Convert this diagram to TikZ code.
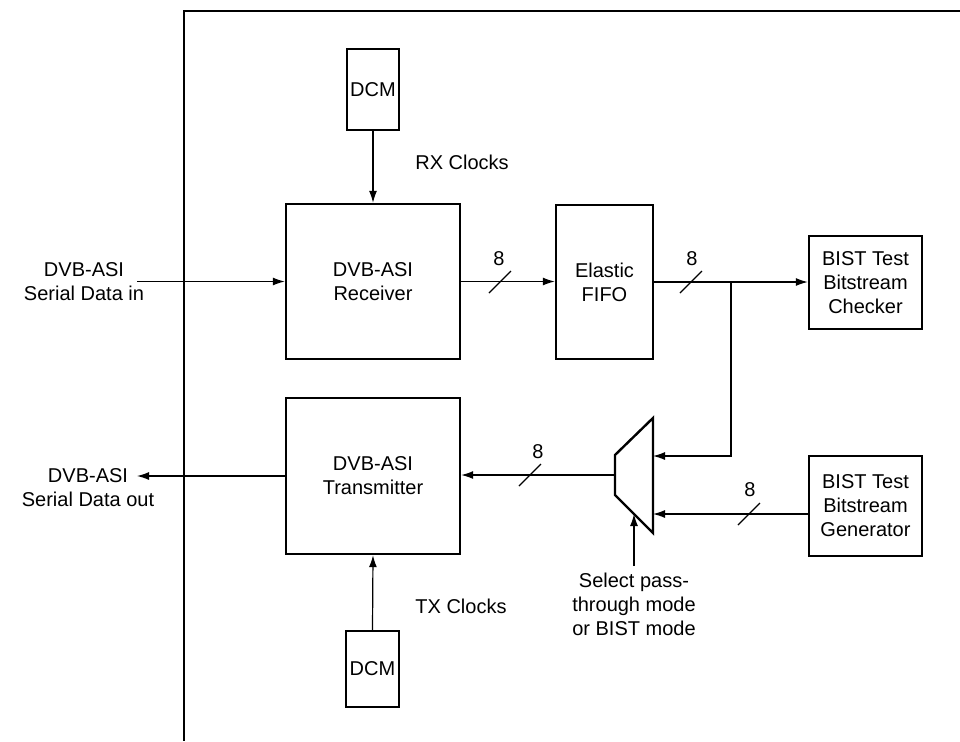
\documentclass[tikz,border=0pt]{standalone}
\usepackage{fontspec}
\setmainfont{Liberation Sans}
\usetikzlibrary{arrows.meta}
\begin{document}
\begin{tikzpicture}[x=0.5pt,y=-0.5pt,
  box/.style={draw,line width=1.2pt,inner sep=0pt,align=center,font=\fontsize{10}{12}\selectfont},
  conn/.style={line width=0.6pt,-{Latex[length=6pt,width=4pt]}},
  wire/.style={line width=0.6pt},
  lbl/.style={font=\fontsize{10}{12}\selectfont,align=center,inner sep=0pt},
  tick/.style={line width=0.6pt}]
\useasboundingbox (0,0) rectangle (960,741);
% outer frame (left and top edges)
\draw[line width=1.2pt] (960,11) -- (184,11) -- (184,741);
% blocks
\node[box,minimum width=26pt,minimum height=40.5pt] (dcm1) at (373,89.5) {DCM};
\node[box,minimum width=87pt,minimum height=77.5pt] (rx) at (373,281.5) {DVB-ASI\\Receiver};
\node[box,minimum width=48.5pt,minimum height=77pt] (fifo) at (604.5,282) {Elastic\\FIFO};
\node[box,minimum width=56.5pt,minimum height=46.5pt] (chk) at (865.5,282.5) {BIST Test\\Bitstream\\Checker};
\node[box,minimum width=87pt,minimum height=78pt] (tx) at (373,476) {DVB-ASI\\Transmitter};
\node[box,minimum width=56.5pt,minimum height=50pt] (gen) at (865.5,506) {BIST Test\\Bitstream\\Generator};
\node[box,minimum width=26.5pt,minimum height=38pt] (dcm2) at (372.5,669) {DCM};
% mux
\draw[line width=1.2pt] (653,418) -- (615,455) -- (615,495) -- (653,533) -- cycle;
\coordinate (muxin1) at (653,456);
\coordinate (muxin2) at (653,514);
\coordinate (muxout) at (615,475);
\coordinate (muxsel) at (634,514);
% labels
\node[lbl] (inlbl) at (84,282) {DVB-ASI\\Serial Data in};
\node[lbl] (outlbl) at (88,488) {DVB-ASI\\Serial Data out};
\node[lbl,anchor=west] (rxclk) at (415,162) {RX Clocks};
\node[lbl,anchor=west] (txclk) at (415,606) {TX Clocks};
\node[lbl] (sellbl) at (634,604) {Select pass-\\through mode\\or BIST mode};
\node[lbl] (n1) at (499,259) {8};
\node[lbl] (n2) at (692,259) {8};
\node[lbl] (n3) at (538,452) {8};
\node[lbl] (n4) at (750,490) {8};
% free ends
\coordinate (rxin) at (137,281.5);
\coordinate (txout) at (137,476);
\coordinate (j) at (731,282);
\coordinate (selfoot) at (634,566);
% connectors
\draw[conn] (rxin) -- (rx.west);
\draw[conn] (tx.west) -- (txout);
\draw[conn] (dcm1.south) -- (rx.north);
\draw[conn] (dcm2.north) -- (tx.south);
\draw[conn] (rx.east) -- (rx.east -| fifo.west);
\draw[conn] (fifo.east) -- (fifo.east -| chk.west);
\draw[conn] (j) |- (muxin1);
\draw[conn] (gen.west |- muxin2) -- (muxin2);
\draw[conn] (muxout) -- (muxout -| tx.east);
\draw[conn] (selfoot) -- (muxsel);
% bus width ticks
\draw[tick] (500,282) ++(-11,11) -- ++(22,-22);
\draw[tick] (691,282) ++(-11,11) -- ++(22,-22);
\draw[tick] (530,475) ++(-11,11) -- ++(22,-22);
\draw[tick] (749,514) ++(-11,11) -- ++(22,-22);
\end{tikzpicture}
\end{document}
